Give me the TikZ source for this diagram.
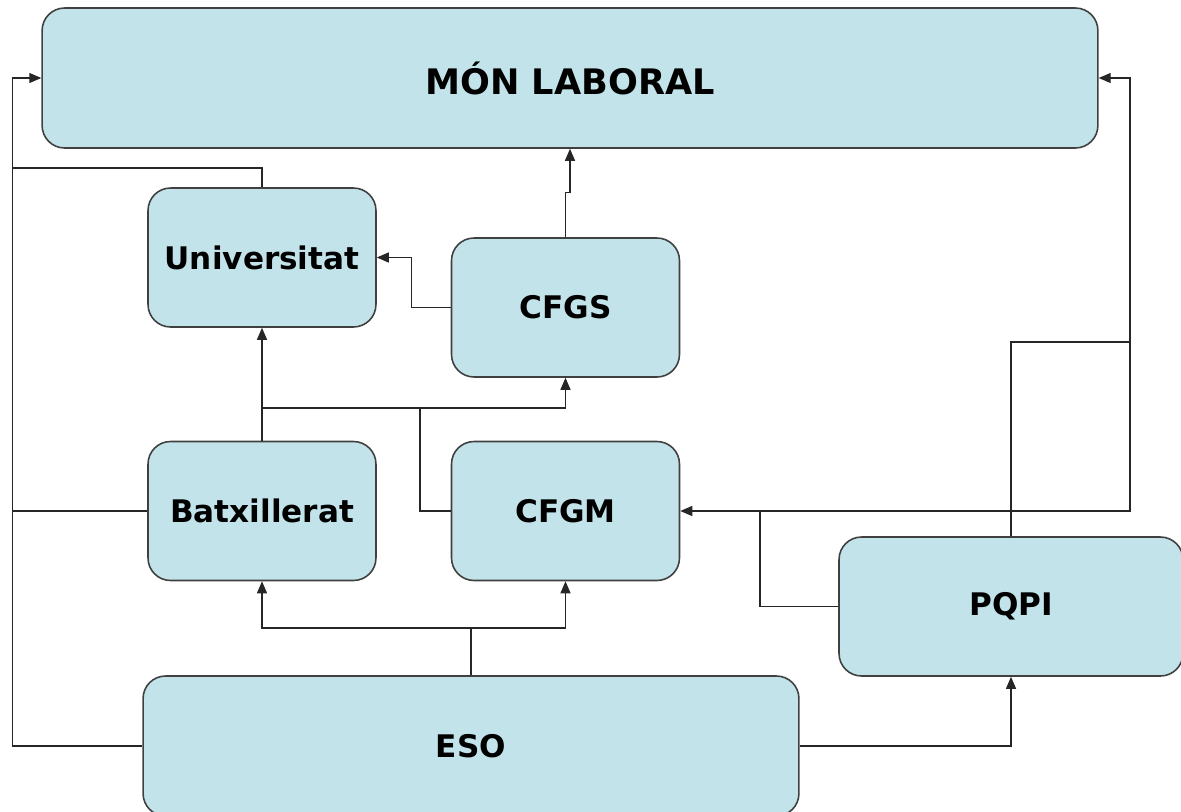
\documentclass[tikz,border=0pt]{standalone}
\usepackage{fontspec}
\setmainfont{DejaVu Sans}
\usetikzlibrary{arrows.meta}
\definecolor{caixa}{RGB}{193,227,233}
\tikzset{
  etapa/.style={draw=black!75, line width=0.9pt, fill=caixa, rounded corners=0.45cm,
    font=\fontsize{17.7}{20}\selectfont\bfseries, inner sep=0pt},
  petita/.style={etapa, minimum width=4.56cm, minimum height=2.78cm},
  fletxa/.style={-{Triangle[length=2.4mm,width=2mm]}},
  linia/.style={line width=0.7pt, black!85}
}
\begin{document}
\begin{tikzpicture}[x=0.02cm,y=-0.02cm]
\useasboundingbox (0,0) rectangle (1181,812);
% caixes
\node[etapa, minimum width=21.12cm, minimum height=2.8cm,
  font=\fontsize{20}{22}\selectfont\bfseries] (mon) at (570,78) {MÓN LABORAL};
\node[petita] (uni) at (262,257.5) {Universitat};
\node[petita] (cfgs) at (565.5,307.5) {CFGS};
\node[petita] (batx) at (262,511) {Batxillerat};
\node[petita] (cfgm) at (565.5,511) {CFGM};
\node[etapa, minimum width=6.88cm, minimum height=2.78cm] (pqpi) at (1011,606.5) {PQPI};
\node[etapa, minimum width=13.12cm, minimum height=2.8cm] (eso) at (471,746) {ESO};
% punts d'unio
\coordinate (esq) at (13,168);
\coordinate (je) at (471,628);
\coordinate (jb) at (262,408);
\coordinate (jm) at (420,408);
\coordinate (jp) at (760,511);
\coordinate (jr) at (1130,511);
\coordinate (jq) at (1130,342);
% connexions
\begin{scope}[linia]
\draw[fletxa] (eso.west) -- ++(-130,0) |- (mon.west);
\draw (uni.north) |- (esq);
\draw (batx.west) -- (batx.west -| esq);
\draw (eso.north) -- (je);
\draw[fletxa] (je) -| (batx.south);
\draw[fletxa] (je) -| (cfgm.south);
\draw[fletxa] (batx.north) -- (uni.south);
\draw[fletxa] (jb) -| (cfgs.south);
\draw (cfgm.west) -| (jm);
\draw[fletxa] (cfgs.west) -- ++(-39,0) |- (uni.east);
\draw[fletxa] (cfgs.north) -- ++(0,-45) -| (mon.south);
\draw (pqpi.west) -| (jp);
\draw[fletxa] (jp) -- (cfgm.east);
\draw[fletxa] (jp) -- (jr) |- (mon.east);
\draw (pqpi.north) |- (jq);
\draw[fletxa] (eso.east) -| (pqpi.south);
\end{scope}
\end{tikzpicture}
\end{document}
